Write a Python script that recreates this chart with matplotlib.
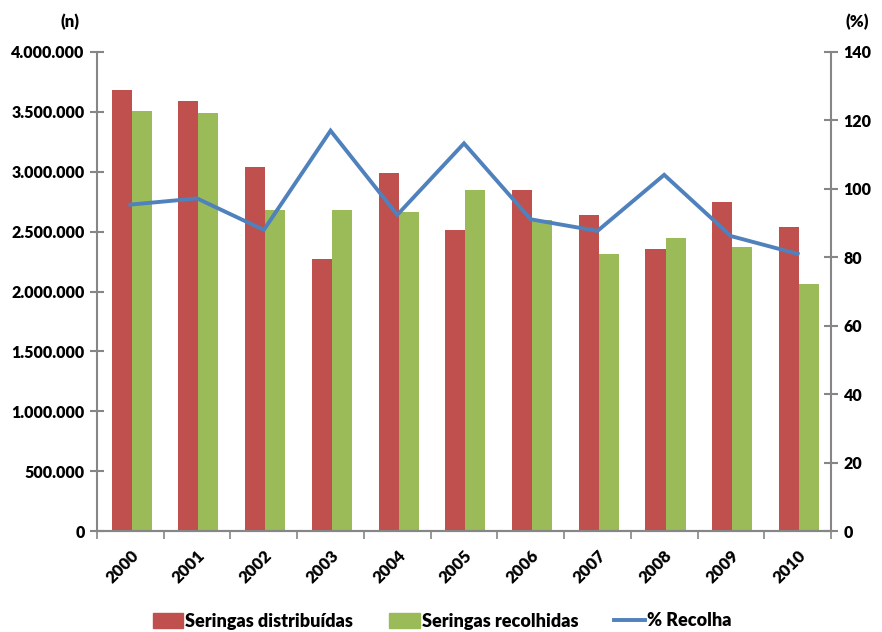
import matplotlib
matplotlib.use("Agg")
import matplotlib.pyplot as plt
import numpy as np
from matplotlib.lines import Line2D
from matplotlib.patches import Patch

plt.rcParams['font.family'] = ['Lato', 'DejaVu Sans']
plt.rcParams['font.weight'] = 'heavy'

years = ['2000', '2001', '2002', '2003', '2004', '2005', '2006', '2007', '2008', '2009', '2010']
distribuidas = [3683000, 3591000, 3040000, 2271000, 2990000, 2514000, 2848000, 2639000, 2355000, 2747000, 2539000]
recolhidas = [3507000, 3491000, 2681000, 2681000, 2664000, 2848000, 2597000, 2313000, 2447000, 2372000, 2063000]
pct_recolha = [95.4, 97.2, 88.0, 117.0, 92.4, 113.3, 91.1, 87.7, 104.1, 86.2, 81.0]
left_ticks = [0, 500000, 1000000, 1500000, 2000000, 2500000, 3000000, 3500000, 4000000]
right_ticks = [0, 20, 40, 60, 80, 100, 120, 140]

red = '#C0504D'
green = '#9BBB59'
blue = '#4F81BD'
grey = '#868686'
FW = 'heavy'

fig = plt.figure(figsize=(8.82, 6.32), dpi=100)
ax = fig.add_axes([97 / 882, 101 / 632, 734 / 882, 479 / 632])
ax2 = ax.twinx()

x = np.arange(len(years))
w = 0.3
ax.bar(x - w / 2 + 0.02, distribuidas, w, color=red, zorder=2)
ax.bar(x + w / 2 + 0.02, recolhidas, w, color=green, zorder=2)
ax2.plot(x, pct_recolha, color=blue, lw=2.8, solid_joinstyle='miter', zorder=3)

ax.set_xlim(-0.5, len(years) - 0.5)
ax.set_ylim(0, 4000000)
ax2.set_ylim(0, 140)

def fmt(v):
    return f"{int(v):,}".replace(",", ".")

ax.set_yticks(left_ticks)
ax.set_yticklabels([fmt(v) for v in left_ticks], fontsize=11.5, fontweight=FW)
ax2.set_yticks(right_ticks)
ax2.set_yticklabels([str(v) for v in right_ticks], fontsize=11.5, fontweight=FW)

ax.set_xticks(x)
ax.set_xticklabels(years, rotation=45, ha='right', va='top', rotation_mode='anchor',
                   fontsize=12, fontweight=FW)
ax.tick_params(axis='x', which='major', length=0, pad=12)
ax.set_xticks(np.arange(-0.5, len(years)), minor=True)
ax.tick_params(axis='x', which='minor', length=6, width=1.2, color=grey, direction='out')

for a in (ax, ax2):
    for s in a.spines.values():
        s.set_color(grey)
        s.set_linewidth(1.5)
    a.spines['top'].set_visible(False)

ax2.spines['left'].set_visible(False)
ax.spines['right'].set_visible(False)
ax.tick_params(axis='y', direction='inout', length=10, width=1.5, color=grey, pad=4)
ax2.tick_params(axis='y', direction='inout', length=10, width=1.5, color=grey, pad=4)

fig.text(70 / 882, 1 - 22 / 632, '(n)', ha='center', va='center', fontsize=12, fontweight=FW)
fig.text(857 / 882, 1 - 22 / 632, '(%)', ha='center', va='center', fontsize=12, fontweight=FW)

handles = [Patch(color=red, label='Seringas distribuídas'),
           Patch(color=green, label='Seringas recolhidas'),
           Line2D([0], [0], color=blue, lw=2.8, label='% Recolha')]
fig.legend(handles=handles, loc='center', bbox_to_anchor=(442 / 882, 1 - 621 / 632), ncol=3,
           frameon=False, prop={'size': 13, 'weight': FW}, handlelength=1.7,
           handleheight=0.9, handletextpad=0.1, columnspacing=2.0)

fig.savefig('out.png', dpi=100)
